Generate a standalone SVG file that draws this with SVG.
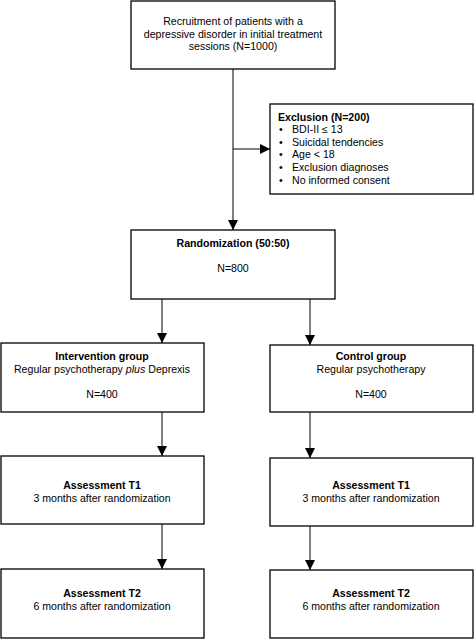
<svg xmlns="http://www.w3.org/2000/svg" width="474" height="639" viewBox="0 0 474 639">
<style>
.box{fill:#fff;stroke:#000;stroke-width:1.3}
.ln{stroke:#000;stroke-width:1;fill:none}
text{font-family:"Liberation Sans",Arial,sans-serif;font-size:10.6px;fill:#000}
.c{text-anchor:middle}
.b{font-weight:bold}
</style>
<defs>
<marker id="ah" viewBox="0 0 10 10" refX="10" refY="5" markerWidth="10" markerHeight="10" markerUnits="userSpaceOnUse" orient="auto">
<path d="M0,0 L10,5 L0,10 Z" fill="#000"/>
</marker>
</defs>
<rect width="474" height="639" fill="#fff"/>
<g id="connectors">
<line class="ln" x1="233" y1="69" x2="233" y2="230" marker-end="url(#ah)"/>
<line class="ln" x1="233" y1="149" x2="270" y2="149" marker-end="url(#ah)"/>
<line class="ln" x1="162" y1="299" x2="162" y2="343" marker-end="url(#ah)"/>
<line class="ln" x1="310" y1="299" x2="310" y2="345" marker-end="url(#ah)"/>
<line class="ln" x1="162" y1="412" x2="162" y2="456" marker-end="url(#ah)"/>
<line class="ln" x1="310" y1="412" x2="310" y2="458" marker-end="url(#ah)"/>
<line class="ln" x1="162" y1="524" x2="162" y2="569" marker-end="url(#ah)"/>
<line class="ln" x1="310" y1="526" x2="310" y2="570" marker-end="url(#ah)"/>
</g>
<g id="recruitment">
<rect class="box" x="131" y="1" width="204" height="68"/>
<text class="c" x="233" y="25">Recruitment of patients with a</text>
<text class="c" x="233" y="38">depressive disorder in initial treatment</text>
<text class="c" x="233" y="50">sessions (N=1000)</text>
</g>
<g id="exclusion">
<rect class="box" x="270" y="104" width="203" height="90"/>
<text class="b" x="278" y="121">Exclusion (N=200)</text>
<text x="279" y="133">•</text><text x="292" y="133">BDI-II ≤ 13</text>
<text x="279" y="146">•</text><text x="292" y="146">Suicidal tendencies</text>
<text x="279" y="158">•</text><text x="292" y="158">Age &lt; 18</text>
<text x="279" y="171">•</text><text x="292" y="171">Exclusion diagnoses</text>
<text x="279" y="184">•</text><text x="292" y="184">No informed consent</text>
</g>
<g id="randomization">
<rect class="box" x="131" y="230" width="204" height="69"/>
<text class="c b" x="233" y="247">Randomization (50:50)</text>
<text class="c" x="233" y="272">N=800</text>
</g>
<g id="intervention">
<rect class="box" x="1" y="343" width="203" height="69"/>
<text class="c b" x="102" y="360">Intervention group</text>
<text class="c" x="102" y="373">Regular psychotherapy <tspan font-style="italic">plus</tspan> Deprexis</text>
<text class="c" x="102" y="398">N=400</text>
</g>
<g id="control">
<rect class="box" x="270" y="345" width="203" height="67"/>
<text class="c b" x="371" y="360">Control group</text>
<text class="c" x="371" y="373">Regular psychotherapy</text>
<text class="c" x="371" y="398">N=400</text>
</g>
<g id="t1-left">
<rect class="box" x="1" y="456" width="203" height="68"/>
<text class="c b" x="102" y="489">Assessment T1</text>
<text class="c" x="102" y="502">3 months after randomization</text>
</g>
<g id="t1-right">
<rect class="box" x="270" y="458" width="203" height="68"/>
<text class="c b" x="371" y="489">Assessment T1</text>
<text class="c" x="371" y="502">3 months after randomization</text>
</g>
<g id="t2-left">
<rect class="box" x="1" y="569" width="203" height="69"/>
<text class="c b" x="102" y="597">Assessment T2</text>
<text class="c" x="102" y="610">6 months after randomization</text>
</g>
<g id="t2-right">
<rect class="box" x="270" y="570" width="203" height="68"/>
<text class="c b" x="371" y="597">Assessment T2</text>
<text class="c" x="371" y="610">6 months after randomization</text>
</g>
</svg>
